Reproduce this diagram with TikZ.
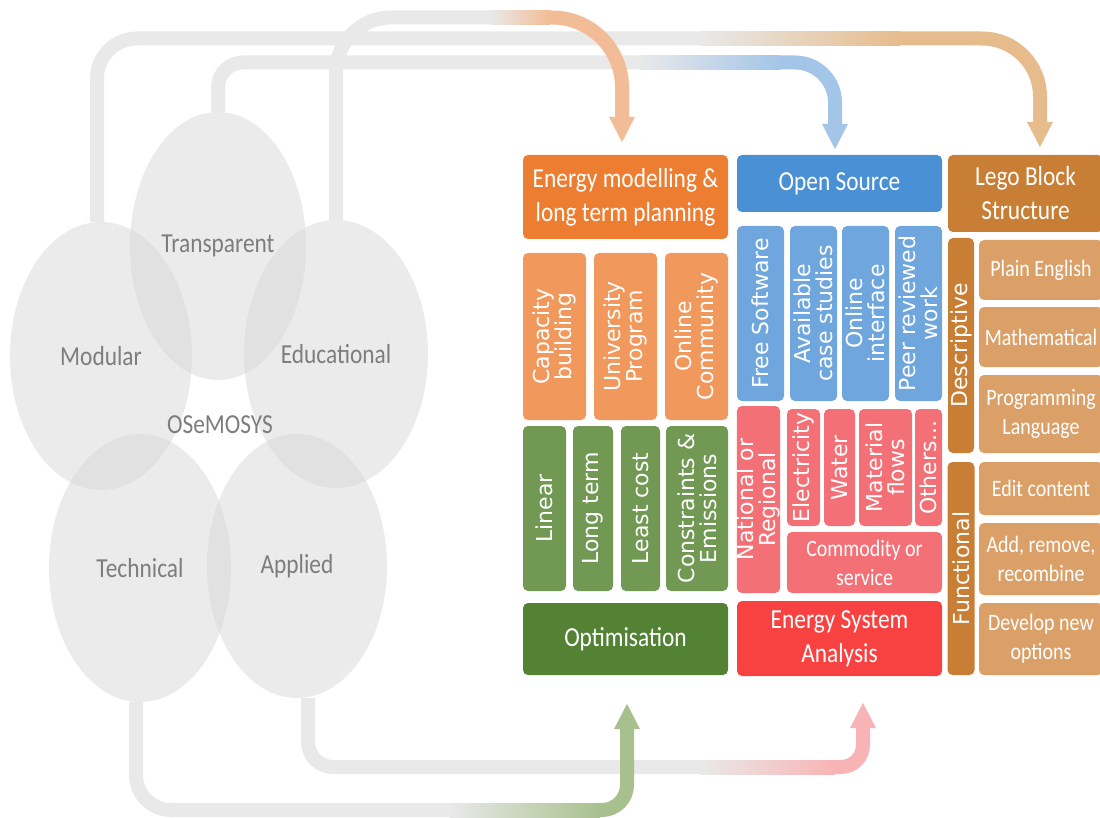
\documentclass[tikz,border=0pt]{standalone}
\usepackage{fontspec}
\setmainfont{Carlito}[FakeStretch=0.85]
\newfontfamily\vfont{DejaVu Sans}
\usetikzlibrary{shapes.geometric,arrows.meta}

\definecolor{petalgray}{RGB}{215,215,215}
\definecolor{labelgray}{RGB}{125,125,125}
\definecolor{linegray}{RGB}{233,233,233}
\definecolor{orangehead}{RGB}{237,125,49}
\definecolor{orangetile}{RGB}{241,152,92}
\definecolor{greentile}{RGB}{113,153,84}
\definecolor{greenhead}{RGB}{84,130,53}
\definecolor{bluehead}{RGB}{74,144,212}
\definecolor{bluetile}{RGB}{111,166,221}
\definecolor{redtile}{RGB}{242,112,118}
\definecolor{redhead}{RGB}{248,66,66}
\definecolor{tanhead}{RGB}{200,126,52}
\definecolor{tantile}{RGB}{218,160,104}
\definecolor{orangearrow}{RGB}{242,188,150}
\definecolor{bluearrow}{RGB}{163,197,232}
\definecolor{tanarrow}{RGB}{230,188,140}
\definecolor{greenarrow}{RGB}{168,192,142}
\definecolor{pinkarrow}{RGB}{248,180,180}

\begin{document}
\begin{tikzpicture}
	[x=1pt, y=-1pt,
	petal/.style={ellipse, fill=petalgray, fill opacity=0.5, text opacity=1, text=labelgray, inner sep=0pt, font=\fontsize{27.5}{33}\selectfont},
	head/.style={rectangle, rounded corners=5pt, text=white, align=center, inner sep=0pt, font=\fontsize{27.5}{34}\selectfont},
	subbox/.style={rectangle, rounded corners=5pt, text=white, align=center, inner sep=0pt, font=\fontsize{23.5}{29}\selectfont},
	vsubbox/.style={subbox, rotate=90, font=\vfont\fontsize{22}{22}\selectfont},
	flowline/.style={line width=14pt},
	arrowend/.style={-{Triangle[width=24pt,length=26pt]}}]

	\useasboundingbox (0,0) rectangle (1100,818);

	% the five petals
	\node (mod) at (101,356) [petal, minimum width=182pt, minimum height=268pt] {Modular};
	\node (tra) at (218,246) [petal, minimum width=176pt, minimum height=268pt] {Transparent};
	\node (edu) at (336,354) [petal, minimum width=184pt, minimum height=268pt] {Educational};
	\node (tec) at (140,568) [petal, minimum width=182pt, minimum height=268pt] {Technical};
	\node (app) at (297,566) [petal, minimum width=180pt, minimum height=264pt] {Applied};
	\node (ose) at (220,425) [text=labelgray, font=\fontsize{27.5}{33}\selectfont] {OSeMOSYS};

	% first column
	\node (energy) at (625.5,197) [head, fill=orangehead, minimum width=205pt, minimum height=84pt] {Energy modelling \&\\long term planning};
	\node (cap) at (554.5,336.5) [vsubbox, fill=orangetile, minimum width=167pt, minimum height=63pt] {Capacity\\building};
	\node (uni) at (625.5,336.5) [vsubbox, fill=orangetile, minimum width=167pt, minimum height=63pt] {University\\Program};
	\node (onl) at (696.5,336.5) [vsubbox, fill=orangetile, minimum width=167pt, minimum height=63pt] {Online\\Community};
	\node (lin) at (544.5,508.5) [vsubbox, fill=greentile, minimum width=165pt, minimum height=43pt] {Linear};
	\node (lterm) at (593,508.5) [vsubbox, fill=greentile, minimum width=165pt, minimum height=40pt] {Long term};
	\node (lcost) at (640.5,508.5) [vsubbox, fill=greentile, minimum width=165pt, minimum height=39pt] {Least cost};
	\node (cons) at (697,508.5) [vsubbox, fill=greentile, minimum width=165pt, minimum height=62pt] {Constraints \&\\Emissions};
	\node (opt) at (625.5,639) [head, fill=greenhead, minimum width=205pt, minimum height=72pt] {Optimisation};

	% second column
	\node (open) at (839.5,183.5) [head, fill=bluehead, minimum width=205pt, minimum height=57pt] {Open Source};
	\node (free) at (760.5,313.5) [vsubbox, fill=bluetile, minimum width=175pt, minimum height=47pt] {Free Software};
	\node (avail) at (813.5,313.5) [vsubbox, fill=bluetile, minimum width=175pt, minimum height=47pt] {Available\\case studies};
	\node (oint) at (865.5,313.5) [vsubbox, fill=bluetile, minimum width=175pt, minimum height=47pt] {Online\\interface};
	\node (peer) at (918.5,313.5) [vsubbox, fill=bluetile, minimum width=175pt, minimum height=47pt] {Peer reviewed\\work};
	\node (nat) at (758.5,499.5) [vsubbox, fill=redtile, minimum width=187pt, minimum height=43pt] {National or\\Regional};
	\node (elec) at (803.5,467.5) [vsubbox, fill=redtile, minimum width=117pt, minimum height=33pt] {Electricity};
	\node (water) at (839.5,467.5) [vsubbox, fill=redtile, minimum width=117pt, minimum height=31pt] {Water};
	\node (mat) at (885.5,467.5) [vsubbox, fill=redtile, minimum width=117pt, minimum height=53pt] {Material\\flows};
	\node (oth) at (928.5,467.5) [vsubbox, fill=redtile, minimum width=117pt, minimum height=27pt] {Others...};
	\node (comm) at (864.5,562.5) [subbox, fill=redtile, minimum width=155pt, minimum height=61pt] {Commodity or\\service};
	\node (esa) at (839.5,638.5) [head, fill=redhead, minimum width=205pt, minimum height=75pt] {Energy System\\Analysis};

	% third column
	\node (lego) at (1025.5,193.5) [head, fill=tanhead, minimum width=155pt, minimum height=77pt] {Lego Block\\Structure};
	\node (desc) at (961,345.5) [vsubbox, fill=tanhead, minimum width=215pt, minimum height=26pt] {Descriptive};
	\node (func) at (961,568.5) [vsubbox, fill=tanhead, minimum width=213pt, minimum height=27pt] {Functional};
	\node (plain) at (1041,270) [subbox, fill=tantile, minimum width=124pt, minimum height=60pt] {Plain English};
	\node (math) at (1041,337) [subbox, fill=tantile, minimum width=124pt, minimum height=60pt] {Mathematical};
	\node (prog) at (1041,414) [subbox, fill=tantile, minimum width=124pt, minimum height=78pt] {Programming\\Language};
	\node (edit) at (1041,488.5) [subbox, fill=tantile, minimum width=124pt, minimum height=53pt] {Edit content};
	\node (add) at (1041,559) [subbox, fill=tantile, minimum width=124pt, minimum height=72pt] {Add, remove,\\recombine};
	\node (dev) at (1041,639) [subbox, fill=tantile, minimum width=124pt, minimum height=72pt] {Develop new\\options};

	% where the grey lines turn into colour
	\coordinate (a1) at (700,38.5);
	\coordinate (a2) at (900,38.5);
	\coordinate (b1) at (640,62.5);
	\coordinate (b2) at (780,62.5);
	\coordinate (c1) at (490,17.5);
	\coordinate (c2) at (550,17.5);
	\coordinate (d1) at (450,810);
	\coordinate (d2) at (600,810);
	\coordinate (e1) at (700,767);
	\coordinate (e2) at (835,767);

	% grey parts
	\draw[flowline, linegray, rounded corners=40pt] ([xshift=-4pt]mod.north) |- (a1);
	\draw[flowline, linegray, rounded corners=25pt] (tra.north) |- (b1);
	\draw[flowline, linegray, rounded corners=55pt] (edu.north) |- (c1);
	\draw[flowline, linegray, rounded corners=25pt] ([xshift=11pt]app.south) |- (e1);
	\draw[flowline, linegray, rounded corners=35pt] ([xshift=-4pt]tec.south) |- (d1);

	% fading into colour
	\shade[left color=linegray, right color=tanarrow] (a1) ++(0,-7) rectangle ++(200,14);
	\shade[left color=linegray, right color=bluearrow] (b1) ++(0,-7) rectangle ++(140,14);
	\shade[left color=linegray, right color=orangearrow] (c1) ++(0,-7) rectangle ++(60,14);
	\shade[left color=linegray, right color=pinkarrow] (e1) ++(0,-7) rectangle ++(135,14);
	\shade[left color=linegray, right color=greenarrow] (d1) ++(0,-7) rectangle ++(150,14);

	% coloured ends with arrows
	\draw[flowline, tanarrow, arrowend, rounded corners=58pt, shorten >=7pt] (a2) -| ([xshift=14.5pt]lego.north);
	\draw[flowline, bluearrow, arrowend, rounded corners=40pt, shorten >=5pt] (b2) -| ([xshift=-4.5pt]open.north);
	\draw[flowline, pinkarrow, arrowend, rounded corners=22pt, shorten >=26pt] (e2) -| ([xshift=23.5pt]esa.south);
	\draw[flowline, greenarrow, arrowend, rounded corners=25pt, shorten >=28pt] (d2) -| ([xshift=1.5pt]opt.south);
	\draw[flowline, orangearrow, arrowend, rounded corners=70pt, shorten >=12pt] (c2) -| ([xshift=-3.5pt]energy.north);

\end{tikzpicture}
\end{document}
